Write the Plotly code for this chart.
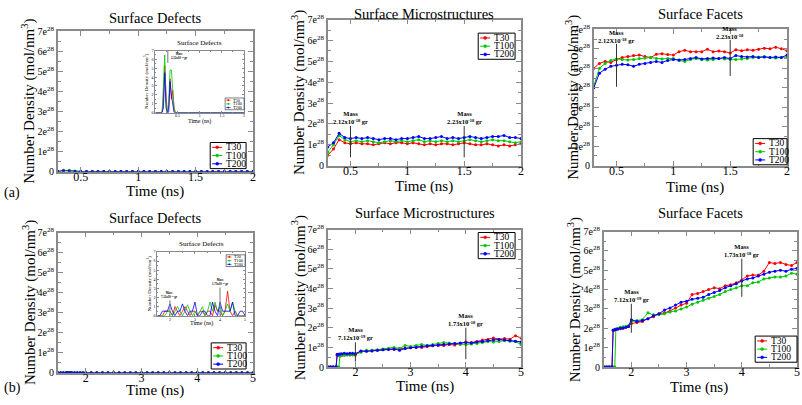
import plotly.graph_objects as go

W, H = 802, 405
FONT = "Liberation Serif"
RED, GREEN, BLUE = "rgb(255,0,0)", "rgb(0,200,0)", "rgb(0,0,255)"
FRAME = "#8a8a8a"
SERIES = ["T30", "T100", "T200"]
COLORS = [RED, GREEN, BLUE]

# ---------------- data (number density in units of 1e28 mol/nm^3) ----------------
tA = [0.30, 0.35, 0.40, 0.45, 0.50, 0.55, 0.60,
      0.65, 0.70, 0.75, 0.80, 0.85, 0.90, 0.95,
      1.00, 1.05, 1.10, 1.15, 1.20, 1.25, 1.30,
      1.35, 1.40, 1.45, 1.50, 1.55, 1.60, 1.65,
      1.70, 1.75, 1.80, 1.85, 1.90, 1.95, 2.00]

defA_T30 = [0.0, 0.06, 0.04, 0.0, 0.0, 0.0, 0.0,
            0.0, 0.0, 0.0, 0.0, 0.0, 0.0, 0.0,
            0.0, 0.0, 0.0, 0.0, 0.0, 0.0, 0.0,
            0.0, 0.0, 0.0, 0.0, 0.0, 0.0, 0.0,
            0.0, 0.0, 0.0, 0.0, 0.0, 0.0, 0.0]
defA_T100 = [0.0, 0.04, 0.07, 0.03, 0.0, 0.0, 0.0,
             0.0, 0.0, 0.0, 0.0, 0.0, 0.0, 0.0,
             0.0, 0.0, 0.0, 0.0, 0.0, 0.0, 0.0,
             0.0, 0.0, 0.0, 0.0, 0.0, 0.0, 0.0,
             0.0, 0.0, 0.0, 0.0, 0.0, 0.0, 0.0]
defA_T200 = [0.0, 0.03, 0.02, 0.0, 0.0, 0.0, 0.0,
             0.0, 0.0, 0.0, 0.0, 0.0, 0.0, 0.0,
             0.0, 0.0, 0.0, 0.0, 0.0, 0.0, 0.0,
             0.0, 0.0, 0.0, 0.0, 0.0, 0.0, 0.0,
             0.0, 0.0, 0.0, 0.0, 0.0, 0.0, 0.0]

micA_T30 = [0.50, 0.80, 1.25, 1.10, 1.05, 1.10, 1.05,
            1.05, 1.00, 1.05, 1.10, 1.05, 1.10, 1.10,
            1.05, 1.10, 1.05, 1.00, 1.05, 1.00, 1.05,
            1.05, 1.00, 1.05, 1.10, 1.05, 1.00, 1.00,
            1.05, 1.00, 0.95, 1.00, 0.95, 1.00, 1.05]
micA_T100 = [0.65, 1.00, 1.45, 1.25, 1.15, 1.20, 1.15,
             1.20, 1.15, 1.10, 1.15, 1.20, 1.15, 1.20,
             1.15, 1.20, 1.25, 1.15, 1.20, 1.15, 1.20,
             1.15, 1.20, 1.15, 1.20, 1.25, 1.20, 1.15,
             1.20, 1.25, 1.20, 1.20, 1.15, 1.10, 1.15]
micA_T200 = [0.90, 1.10, 1.55, 1.35, 1.30, 1.35, 1.30,
             1.35, 1.30, 1.25, 1.30, 1.30, 1.25, 1.30,
             1.30, 1.35, 1.40, 1.30, 1.30, 1.35, 1.40,
             1.30, 1.35, 1.30, 1.35, 1.40, 1.35, 1.30,
             1.35, 1.40, 1.40, 1.45, 1.35, 1.35, 1.30]

facA_T30 = [5.00, 5.25, 5.35, 5.30, 5.45, 5.55, 5.60,
            5.65, 5.68, 5.60, 5.55, 5.72, 5.75, 5.70,
            5.68, 5.85, 5.92, 5.85, 5.85, 5.85, 5.98,
            5.85, 5.88, 5.85, 5.78, 5.95, 5.90, 5.95,
            5.92, 5.98, 6.03, 6.00, 6.08, 6.00, 5.90]
facA_T100 = [4.10, 5.00, 5.25, 5.40, 5.48, 5.45, 5.42,
             5.45, 5.50, 5.52, 5.55, 5.50, 5.48, 5.50,
             5.50, 5.40, 5.35, 5.45, 5.50, 5.45, 5.42,
             5.45, 5.50, 5.48, 5.45, 5.45, 5.48, 5.50,
             5.55, 5.58, 5.60, 5.55, 5.52, 5.55, 5.58]
facA_T200 = [4.00, 4.75, 4.95, 5.10, 5.15, 5.20, 5.18,
             5.10, 5.20, 5.25, 5.30, 5.35, 5.30, 5.40,
             5.45, 5.42, 5.45, 5.50, 5.55, 5.48, 5.50,
             5.52, 5.50, 5.55, 5.50, 5.65, 5.60, 5.58,
             5.60, 5.55, 5.58, 5.55, 5.58, 5.55, 5.68]

tB = [1.50, 1.55, 1.60, 1.65, 1.67, 1.70, 1.72, 1.75, 1.80, 1.85, 1.90, 1.95, 2.00,
      2.1, 2.2, 2.3, 2.4, 2.5, 2.6, 2.7, 2.8, 2.9, 3.0,
      3.1, 3.2, 3.3, 3.4, 3.5, 3.6, 3.7, 3.8, 3.9, 4.0,
      4.1, 4.2, 4.3, 4.4, 4.5, 4.6, 4.7, 4.8, 4.9, 5.0]

defB_T30 = [0.0, 0.0, 0.0, 0.0, 0.0, 0.0, 0.0, 0.0, 0.0, 0.0, 0.0, 0.0, 0.0,
            0.0, 0.0, 0.0, 0.0, 0.0, 0.0, 0.0, 0.0, 0.0, 0.0,
            0.0, 0.0, 0.0, 0.0, 0.0, 0.0, 0.0, 0.0, 0.0, 0.0,
            0.0, 0.0, 0.0, 0.0, 0.0, 0.0, 0.0, 0.0, 0.0, 0.0]
defB_T100 = [0.0, 0.0, 0.0, 0.0, 0.0, 0.0, 0.0, 0.0, 0.0, 0.0, 0.0, 0.0, 0.0,
             0.0, 0.0, 0.0, 0.0, 0.0, 0.0, 0.0, 0.0, 0.0, 0.0,
             0.0, 0.0, 0.0, 0.0, 0.0, 0.0, 0.0, 0.0, 0.0, 0.0,
             0.0, 0.0, 0.0, 0.0, 0.0, 0.0, 0.0, 0.0, 0.0, 0.0]
defB_T200 = [0.0, 0.0, 0.0, 0.0, 0.0, 0.0, 0.0, 0.0, 0.0, 0.0, 0.0, 0.0, 0.0,
             0.0, 0.0, 0.0, 0.0, 0.0, 0.0, 0.0, 0.0, 0.0, 0.0,
             0.0, 0.0, 0.0, 0.0, 0.0, 0.0, 0.0, 0.0, 0.0, 0.0,
             0.0, 0.0, 0.0, 0.0, 0.0, 0.0, 0.0, 0.0, 0.0, 0.0]

micB_T30 = [0, 0, 0, 0, 0.60, 0.60, 0.62, 0.60, 0.62, 0.65, 0.62, 0.65, 0.62,
            0.80, 0.82, 0.85, 0.85, 0.90, 0.92, 0.90, 0.95, 0.95, 1.00,
            1.02, 1.00, 1.05, 1.08, 1.10, 1.10, 1.15, 1.12, 1.20, 1.28,
            1.25, 1.30, 1.38, 1.40, 1.48, 1.42, 1.45, 1.42, 1.60, 1.48]
micB_T100 = [0, 0, 0, 0, 0, 0, 0.55, 0.60, 0.60, 0.62, 0.65, 0.62, 0.68,
             0.75, 0.85, 0.85, 0.88, 0.92, 0.95, 1.00, 0.95, 1.10, 1.05,
             1.10, 1.15, 1.10, 1.15, 1.20, 1.25, 1.22, 1.20, 1.15, 1.15,
             1.18, 1.20, 1.25, 1.30, 1.28, 1.30, 1.35, 1.32, 1.30, 1.15]
micB_T200 = [0, 0, 0, 0, 0.65, 0.65, 0.66, 0.68, 0.70, 0.68, 0.70, 0.70, 0.68,
             0.82, 0.80, 0.82, 0.85, 0.88, 0.90, 0.92, 0.85, 0.95, 0.98,
             1.00, 1.05, 1.08, 1.10, 1.12, 1.15, 1.18, 1.20, 1.22, 1.25,
             1.22, 1.28, 1.30, 1.35, 1.38, 1.40, 1.38, 1.35, 1.32, 1.28]

facB_T30 = [0, 0, 0, 0, 1.90, 1.92, 1.95, 1.95, 1.98, 2.00, 2.05, 2.10, 2.25,
            2.30, 2.35, 2.50, 2.60, 2.75, 2.80, 2.90, 3.05, 3.20, 3.30,
            3.75, 3.80, 3.90, 4.00, 4.10, 4.05, 4.20, 4.25, 4.35, 4.50,
            4.70, 4.75, 4.75, 4.95, 5.40, 5.35, 5.40, 5.30, 5.25, 5.40]
facB_T100 = [0, 0, 0, 0, 0, 0, 1.95, 2.00, 2.05, 2.08, 2.10, 2.15, 2.35,
             2.40, 2.45, 2.80, 2.70, 2.70, 2.75, 2.85, 2.90, 3.00, 3.10,
             3.25, 3.35, 3.45, 3.55, 3.65, 3.75, 3.90, 4.00, 4.10, 4.20,
             4.20, 4.35, 4.40, 4.55, 4.60, 4.65, 4.65, 4.70, 4.85, 4.80]
facB_T200 = [0, 0, 0, 0, 1.92, 1.93, 1.95, 1.97, 2.00, 2.02, 2.05, 2.10, 2.45,
             2.35, 2.40, 2.50, 2.65, 2.75, 2.95, 3.05, 3.20, 3.35, 3.40,
             3.50, 3.55, 3.60, 3.75, 3.85, 3.95, 4.10, 4.20, 4.30, 4.45,
             4.55, 4.60, 4.70, 4.80, 4.90, 4.95, 5.00, 4.95, 5.05, 5.10]

# insets (surface defects, zoomed scale)
tI1 = [0.0, 0.15, 0.18, 0.21, 0.24, 0.27, 0.30, 0.33, 0.36, 0.39, 0.42, 0.45, 0.5, 1.0, 1.5, 2.0]
insA_T30 = [0, 0, 1.5, 5.3, 2.0, 0, 0.5, 3.8, 1.5, 2.5, 0.5, 0, 0, 0, 0, 0]
insA_T100 = [0, 0, 3.0, 6.5, 1.0, 0, 1.0, 4.8, 4.8, 2.0, 0.5, 0, 0, 0, 0, 0]
insA_T200 = [0, 0, 0.5, 4.5, 0.5, 0, 0, 3.5, 2.0, 1.0, 0, 0, 0, 0, 0, 0]

tI2 = [1.5, 1.6, 1.7, 1.8, 1.9, 2.0, 2.1, 2.2, 2.3, 2.4, 2.5, 2.6,
       2.7, 2.8, 2.9, 3.0, 3.1, 3.2, 3.3, 3.4, 3.5, 3.6, 3.7, 3.8,
       3.9, 4.0, 4.1, 4.2, 4.3, 4.4, 4.5, 4.6, 4.7, 4.8, 4.9, 5.0]
insB_T30 = [0, 0, 0, 0.5, 0.5, 0.5, 0, 1.0, 0.5, 0, 0.5, 1.0,
            0.5, 0, 0.5, 0.5, 0, 0.5, 0.5, 0, 0.5, 0.5, 0, 1.2,
            0.5, 0.5, 0, 0.5, 2.7, 0.5, 0, 0.5, 0, 0, 0, 0]
insB_T100 = [0, 0, 0, 0, 0.5, 0.5, 0, 0.5, 1.0, 0.5, 0, 0.5,
             1.2, 0.5, 0, 0.5, 0, 0.5, 1.0, 0, 0.5, 1.5, 0.5, 1.5,
             0.5, 1.0, 0, 0.5, 1.3, 0.5, 1.5, 0.5, 0, 0, 0, 0]
insB_T200 = [0, 0, 0.5, 0.5, 0.5, 1.3, 0.5, 0, 0.5, 0.5, 1.3, 0.5,
             0, 0.5, 0.5, 1.5, 0, 0, 0.5, 0.5, 0, 0, 1.5, 0.5,
             0, 1.5, 0.5, 0.5, 0.5, 0.5, 1.5, 0, 0, 0.5, 0.5, 0]

yTickVals = [0, 1, 2, 3, 4, 5, 6, 7]
yTickText = ["0", "1e<sup>28</sup>", "2e<sup>28</sup>", "3e<sup>28</sup>",
             "4e<sup>28</sup>", "5e<sup>28</sup>", "6e<sup>28</sup>", "7e<sup>28</sup>"]
xTicksA = [0.5, 1, 1.5, 2]
xTextA = ["0.5", "1", "1.5", "2"]
xTicksB = [2, 3, 4, 5]
xTextB = ["2", "3", "4", "5"]


def fx(p):
    return p / W


def fy(p):
    return 1 - p / H


fig = go.Figure()
layout = dict(width=W, height=H, margin=dict(l=0, r=0, t=0, b=0),
              paper_bgcolor="white", plot_bgcolor="white", showlegend=False,
              font=dict(family=FONT, color="black"))

annotations = []
shapes = []


def txt(x, y, s, size, angle=0, xanchor="center", yanchor="middle"):
    annotations.append(dict(x=fx(x), y=fy(y), xref="paper", yref="paper", text=s,
                            showarrow=False, textangle=angle, xanchor=xanchor, yanchor=yanchor,
                            font=dict(size=size, family=FONT, color="black")))


def legend_box(right, top, w, s):
    """Small legend box: right/top in pixels, width w, scale s (1 = main plots)."""
    h = 27 * s
    shapes.append(dict(type="rect", xref="paper", yref="paper",
                       x0=fx(right - w), x1=fx(right), y0=fy(top + h), y1=fy(top),
                       line=dict(color="black", width=1 if s == 1 else 0.5),
                       fillcolor="white", layer="above"))
    x0 = right - w
    for i, (name, col) in enumerate(zip(SERIES, COLORS)):
        yc = top + (5 + 8.5 * i) * s
        shapes.append(dict(type="line", xref="paper", yref="paper",
                           x0=fx(x0 + 2 * s), x1=fx(x0 + 12 * s), y0=fy(yc), y1=fy(yc),
                           line=dict(color=col, width=1 if s == 1 else 0.6), layer="above"))
        r = 1.5 * s
        shapes.append(dict(type="circle", xref="paper", yref="paper",
                           x0=fx(x0 + 7 * s - r), x1=fx(x0 + 7 * s + r),
                           y0=fy(yc + r), y1=fy(yc - r),
                           line=dict(color=col, width=0.5), fillcolor=col, layer="above"))
        txt(x0 + 14 * s, yc, name, 9.5 * s, xanchor="left")


# k, x-pixels, y-pixels, x-range, x ticks, time, series, legend (right px, top px, width)
panels = [
    (1, (58, 254), (25, 170), [0.3, 2.0], (xTicksA, xTextA, 0.25), tA, [defA_T30, defA_T100, defA_T200], (247, 140, 36)),
    (2, (329, 523), (13, 164), [0.3, 2.0], (xTicksA, xTextA, 0.25), tA, [micA_T30, micA_T100, micA_T200], (517, 27, 37)),
    (3, (596, 790), (23, 164), [0.3, 2.0], (xTicksA, xTextA, 0.25), tA, [facA_T30, facA_T100, facA_T200], (790, 136, 34)),
    (4, (58, 254), (233, 378), [1.5, 5.0], (xTicksB, xTextB, 0.5), tB, [defB_T30, defB_T100, defB_T200], (247, 347, 35)),
    (5, (329, 523), (230, 372), [1.5, 5.0], (xTicksB, xTextB, 0.5), tB, [micB_T30, micB_T100, micB_T200], (517, 233, 37)),
    (6, (606, 800), (232, 372), [1.5, 5.0], (xTicksB, xTextB, 0.5), tB, [facB_T30, facB_T100, facB_T200], (800, 340, 42)),
    (7, (156, 245), (45, 109), [0.0, 2.0], (xTicksA, xTextA, 0.25), tI1, [insA_T30, insA_T100, insA_T200], (245, 94, 19)),
    (8, (158, 246), (253, 319), [1.5, 5.0], (xTicksB, xTextB, 0.5), tI2, [insB_T30, insB_T100, insB_T200], (246, 256, 19)),
]

for k, xp, yp, xr, (tv, tt, mdt), tt_x, ys, (lr, lt, lw) in panels:
    inset = k >= 7
    for name, col, yv in zip(SERIES, COLORS, ys):
        fig.add_trace(go.Scatter(
            x=tt_x, y=yv, name=name, mode="lines" if inset else "lines+markers",
            line=dict(color=col, width=0.8 if inset else 1),
            marker=dict(color=col, size=3),
            xaxis=f"x{k}", yaxis=f"y{k}", showlegend=False))
    xs = "" if k == 1 else str(k)
    tfs = 4 if inset else 12
    yfs = 4 if inset else 10
    tl = 2 if inset else 5
    ml = 1 if inset else 3
    layout[f"xaxis{xs}"] = dict(
        domain=[fx(xp[0]), fx(xp[1])], range=xr, anchor=f"y{k}",
        tickmode="array", tickvals=tv, ticktext=tt, ticks="inside", ticklen=tl,
        tickcolor=FRAME, tickfont=dict(size=tfs, family=FONT, color="black"),
        ticklabelstandoff=-1 if inset else -7,
        showline=True, linecolor=FRAME, linewidth=1 if inset else 1.5, mirror="ticks",
        showgrid=False, zeroline=False,
        minor=dict(tickmode="linear", tick0=0, dtick=mdt, ticks="inside", ticklen=ml, tickcolor=FRAME))
    layout[f"yaxis{xs}"] = dict(
        domain=[fy(yp[1]), fy(yp[0])], range=[0, 7], anchor=f"x{k}",
        tickmode="array", tickvals=yTickVals,
        ticktext=[str(v) for v in yTickVals] if inset else yTickText,
        ticks="inside", ticklen=tl, tickcolor=FRAME, tickfont=dict(size=yfs, family=FONT, color="black"),
        showline=True, linecolor=FRAME, linewidth=1 if inset else 1.5, mirror="ticks",
        showgrid=False, zeroline=False,
        minor=dict(tickmode="linear", tick0=0, dtick=0.5, ticks="inside", ticklen=ml, tickcolor=FRAME))
    legend_box(lr, lt, lw, 0.45 if inset else 1)

ytitle = "Number Density (mol/nm<sup>3</sup>)"
# titles
txt(156, 11, "Surface Defects", 14.5)
txt(426, 7, "Surface Microstructures", 14.5)
txt(703, 7, "Surface Facets", 14.5)
txt(156, 218, "Surface Defects", 14.5)
txt(427, 213, "Surface Microstructures", 14.5)
txt(703, 213, "Surface Facets", 14.5)
# x titles
txt(156, 191, "Time (ns)", 15)
txt(426, 185, "Time (ns)", 15)
txt(698, 186, "Time (ns)", 15)
txt(156, 396, "Time (ns)", 15)
txt(427, 392, "Time (ns)", 15)
txt(702, 393, "Time (ns)", 15)
# y titles
txt(29, 97, ytitle, 15, -90)
txt(299, 88, ytitle, 15, -90)
txt(574, 93, ytitle, 15, -90)
txt(29, 305, ytitle, 15, -90)
txt(300, 300, ytitle, 15, -90)
txt(576, 302, ytitle, 15, -90)
# panel labels
txt(2, 192, "(a)", 14, xanchor="left")
txt(2, 394, "(b)", 14, xanchor="left")
# inset texts
txt(200, 37, "Surface Defects", 7)
txt(200, 118, "Time (ns)", 6)
txt(146, 77, ytitle, 5, -90)
txt(202, 245, "Surface Defects", 7)
txt(202, 327, "Time (ns)", 6)
txt(149, 286, ytitle, 5, -90)

# Mass markers: (axis k, time, y0, y1, label, font size, label y, anchors)
mass_marks = [
    (2, 0.5, 0.4, 1.9, "Mass<br>2.12x10<sup>-18</sup> gr", 6.5, 1.9, "center", "bottom"),
    (2, 1.5, 0.4, 1.9, "Mass<br>2.23x10<sup>-18</sup> gr", 6.5, 1.9, "center", "bottom"),
    (3, 0.5, 4.05, 6.25, "Mass<br>2.12X10<sup>-18</sup> gr", 6.5, 6.2, "center", "bottom"),
    (3, 1.5, 4.6, 6.45, "Mass<br>2.23x10<sup>-18</sup>", 6.5, 6.4, "center", "bottom"),
    (5, 2.0, 0.28, 1.26, "Mass<br>7.12x10<sup>-19</sup> gr", 6.5, 1.26, "center", "bottom"),
    (5, 4.0, 0.4, 2.0, "Mass<br>1.73x10<sup>-18</sup> gr", 6.5, 2.0, "center", "bottom"),
    (6, 2.0, 1.77, 3.27, "Mass<br>7.12x10<sup>-19</sup> gr", 6.5, 3.27, "center", "bottom"),
    (6, 4.0, 3.63, 5.6, "Mass<br>1.73x10<sup>-18</sup> gr", 6.5, 5.6, "center", "bottom"),
    (7, 0.28, 5.6, 7.0, "Mass<br>2.12x10<sup>-18</sup> gr", 3, 6.5, "left", "middle"),
    (8, 2.0, 0.0, 1.7, "Mass<br>7.12x10<sup>-19</sup> gr", 3, 1.7, "center", "bottom"),
    (8, 4.0, 0.0, 3.1, "Mass<br>1.73x10<sup>-18</sup> gr", 3, 3.1, "center", "bottom"),
]
for k, t, y0, y1, lab, fs, ly, xa, ya in mass_marks:
    shapes.append(dict(type="line", xref=f"x{k}", yref=f"y{k}", x0=t, x1=t, y0=y0, y1=y1,
                       line=dict(color="#333" if k < 7 else "#777", width=1)))
    annotations.append(dict(x=t, y=ly, xref=f"x{k}", yref=f"y{k}", text=f"<b>{lab}</b>",
                            showarrow=False, xanchor=xa, yanchor=ya,
                            xshift=1 if xa == "left" else 0, yshift=-1,
                            font=dict(size=fs, family=FONT, color="black")))

layout["annotations"] = annotations
layout["shapes"] = shapes
fig.update_layout(**layout)
fig.write_html("out.html", config={"displayModeBar": False},
               post_script="document.body.style.margin='0px';document.body.style.padding='0px';")
